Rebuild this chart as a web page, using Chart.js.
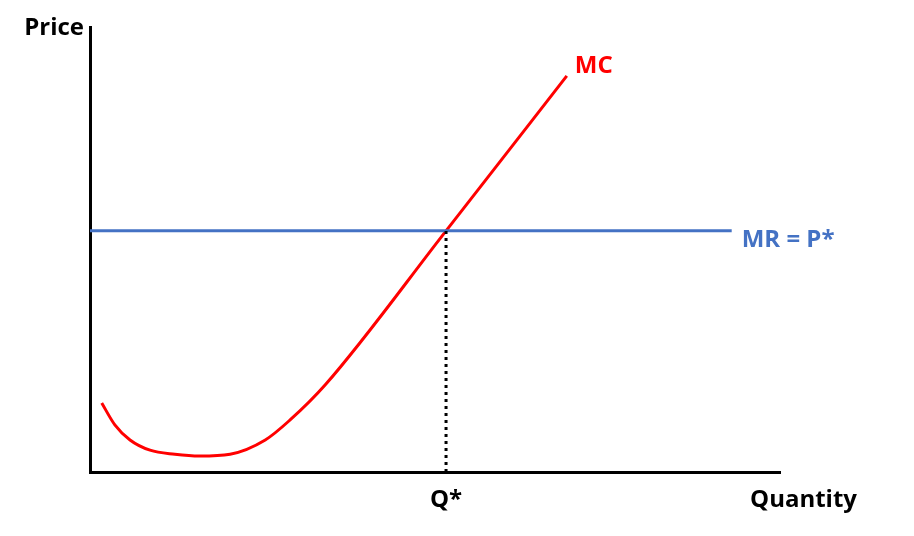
<!DOCTYPE html>
<html>
<head>
<meta charset="utf-8">
<script src="https://cdn.jsdelivr.net/npm/chart.js@4"></script>
<style>
  body { margin: 0; background: #fff; }
  #wrap { width: 914px; height: 536px; position: relative; }
</style>
</head>
<body>
<div id="wrap"><canvas id="chart"></canvas></div>
<script>
// quantity / price pairs (axis units 0..10)
var mc_q = [0.17, 0.36, 0.58, 0.87, 1.23, 1.59, 2.03, 2.54, 2.90, 3.41, 5.16, 6.91];
var mc_p = [1.55, 1.06, 0.72, 0.49, 0.40, 0.36, 0.40, 0.72, 1.17, 1.96, 5.42, 8.90];

var mr_q = [0, 9.30];
var mr_p = [5.42, 5.42];

var q_star = 5.16;
var p_star = 5.42;

var RED = '#ff0000';
var BLUE = '#4472c4';
var FONT = '"Open Sans", Lato, sans-serif';

function to_points(xs, ys) {
  var pts = [];
  for (let i = 0; i < xs.length; i++) pts.push({x: xs[i], y: ys[i]});
  return pts;
}

// text labels drawn next to the axes / curves
var labels_plugin = {
  id: 'labels',
  afterDraw: function(chart) {
    var ctx = chart.ctx;
    var xs = chart.scales.x, ys = chart.scales.y;
    ctx.save();
    ctx.font = 'bold 24px ' + FONT;
    ctx.textBaseline = 'middle';

    ctx.fillStyle = '#000';
    ctx.textAlign = 'right';
    ctx.fillText('Price', xs.left - 6, 28);
    ctx.fillText('Quantity', 857, 500);
    ctx.textAlign = 'center';
    ctx.fillText('Q*', xs.getPixelForValue(q_star), 500);

    ctx.textAlign = 'left';
    ctx.fillStyle = RED;
    var last = mc_q.length - 1;
    ctx.fillText('MC', xs.getPixelForValue(mc_q[last]) + 8, ys.getPixelForValue(mc_p[last]) - 10);

    ctx.fillStyle = BLUE;
    ctx.fillText('MR = P*', xs.getPixelForValue(mr_q[1]) + 10, ys.getPixelForValue(p_star) + 9);
    ctx.restore();
  }
};

var ctx = document.getElementById('chart').getContext('2d');
var myChart = new Chart(ctx, {
  type: 'scatter',
  data: {
    datasets: [
      {
        label: 'Q*',
        data: [{x: q_star, y: 0}, {x: q_star, y: p_star}],
        showLine: true,
        borderColor: '#000',
        borderWidth: 3,
        borderDash: [3, 4],
        pointRadius: 0
      },
      {
        label: 'MR = P*',
        data: to_points(mr_q, mr_p),
        showLine: true,
        borderColor: BLUE,
        borderWidth: 3,
        pointRadius: 0
      },
      {
        label: 'MC',
        data: to_points(mc_q, mc_p),
        showLine: true,
        borderColor: RED,
        borderWidth: 3,
        cubicInterpolationMode: 'monotone',
        pointRadius: 0
      }
    ]
  },
  options: {
    responsive: true,
    maintainAspectRatio: false,
    animation: false,
    layout: { padding: { left: 90, top: 27, right: 134, bottom: 64 } },
    plugins: {
      legend: { display: false },
      tooltip: { enabled: false }
    },
    scales: {
      x: {
        type: 'linear', min: 0, max: 10,
        grid: { display: false, drawTicks: false },
        border: { color: '#000', width: 3 },
        ticks: { display: false }
      },
      y: {
        type: 'linear', min: 0, max: 10,
        grid: { display: false, drawTicks: false },
        border: { color: '#000', width: 3 },
        ticks: { display: false }
      }
    }
  },
  plugins: [labels_plugin]
});
</script>
</body>
</html>
